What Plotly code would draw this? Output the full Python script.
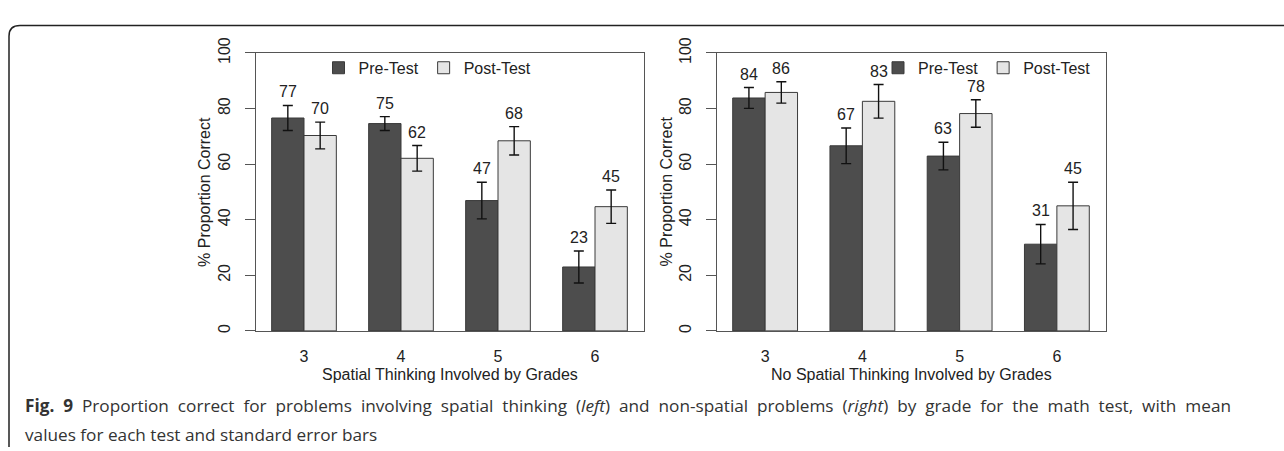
import plotly.graph_objects as go

W, H = 1284, 451

grades = ["3", "4", "5", "6"]
series_names = ["Pre-Test", "Post-Test"]

# Left panel: spatial thinking involved
spatial_pre = [76.6, 74.6, 46.9, 23.0]
spatial_pre_se = [4.5, 2.5, 6.6, 5.75]
spatial_post = [70.3, 62.1, 68.4, 44.7]
spatial_post_se = [4.8, 4.6, 5.1, 6.0]

# Right panel: no spatial thinking involved
nonspatial_pre = [83.8, 66.6, 62.9, 31.2]
nonspatial_pre_se = [3.75, 6.4, 4.95, 7.1]
nonspatial_post = [85.8, 82.6, 78.2, 45.0]
nonspatial_post_se = [3.85, 6.05, 4.95, 8.5]

y_ticks = [0, 20, 40, 60, 80, 100]
x_titles = ["Spatial Thinking Involved by Grades", "No Spatial Thinking Involved by Grades"]
y_title = "% Proportion Correct"
caption_words1 = ["<b>Fig.", "9</b>", "Proportion", "correct", "for", "problems", "involving", "spatial",
                  "thinking", "(<i>left</i>)", "and", "non-spatial", "problems", "(<i>right</i>)", "by",
                  "grade", "for", "the", "math", "test,", "with", "mean"]
caption_line2 = "values for each test and standard error bars"

PRE_COLOR = "#4d4d4d"
POST_COLOR = "#e5e5e5"
EDGE = "#3a3a3a"
TXT = "#222222"
FONT = "Liberation Sans, Arial, sans-serif"
FS = 16


def px(x):
    return x / W


def py(y):
    return 1 - y / H


fig = go.Figure()
annotations = []

panels = [
    (spatial_pre, spatial_pre_se, spatial_post, spatial_post_se, "x", "y", "legend"),
    (nonspatial_pre, nonspatial_pre_se, nonspatial_post, nonspatial_post_se, "x2", "y2", "legend2"),
]
xpos = list(range(len(grades)))

for pre, pre_se, post, post_se, xa, ya, lg in panels:
    for name, vals, errs, col, off in [
        (series_names[0], pre, pre_se, PRE_COLOR, -1 / 6),
        (series_names[1], post, post_se, POST_COLOR, 1 / 6),
    ]:
        fig.add_trace(go.Bar(
            x=xpos, y=vals, name=name, xaxis=xa, yaxis=ya, legend=lg,
            marker=dict(color=col, line=dict(color=EDGE, width=1)),
            error_y=dict(type="data", array=errs, color="#111111", thickness=1.4, width=5),
            hoverinfo="skip",
        ))
        for i, v, e in zip(xpos, vals, errs):
            annotations.append(dict(
                text=f"{v:.0f}", x=i + off, y=v + e, xref=xa, yref=ya,
                xanchor="center", yanchor="bottom", yshift=3, showarrow=False,
                font=dict(size=FS, color=TXT, family=FONT)))

ydom = [py(328), py(38.5)]
x1dom = [px(255.5), px(643.5)]
x2dom = [px(716.5), px(1105.5)]

axis_common = dict(showline=True, mirror=True, linecolor="#555555", linewidth=1,
                   showgrid=False, zeroline=False)
xcommon = dict(axis_common, range=[-0.5, 3.5], tickvals=xpos, ticktext=grades, ticks="",
               tickfont=dict(size=FS, color=TXT, family=FONT), ticklabelstandoff=11, fixedrange=True)
ycommon = dict(axis_common, range=[0, 100], tickvals=y_ticks, ticks="outside", ticklen=10,
               tickcolor="#555555", tickangle=-90, tickfont=dict(size=FS, color=TXT, family=FONT),
               ticklabelstandoff=8, fixedrange=True)

fig.update_layout(
    width=W, height=H, margin=dict(l=0, r=0, t=0, b=0),
    paper_bgcolor="white", plot_bgcolor="white",
    barmode="group", bargap=1 / 3, bargroupgap=0,
    font=dict(family=FONT, color=TXT, size=FS),
    xaxis=dict(xcommon, domain=x1dom, anchor="y"),
    yaxis=dict(ycommon, domain=ydom, anchor="x"),
    xaxis2=dict(xcommon, domain=x2dom, anchor="y2"),
    yaxis2=dict(ycommon, domain=ydom, anchor="x2"),
    legend=dict(orientation="h", x=px(318.5), xanchor="left", y=py(54), yanchor="middle",
                bgcolor="rgba(0,0,0,0)", font=dict(size=FS, color=TXT, family=FONT),
                traceorder="normal"),
    legend2=dict(orientation="h", x=px(878), xanchor="left", y=py(54), yanchor="middle",
                 bgcolor="rgba(0,0,0,0)", font=dict(size=FS, color=TXT, family=FONT),
                 traceorder="normal"),
    showlegend=True,
)

for dom, title in [(x1dom, x_titles[0]), (x2dom, x_titles[1])]:
    annotations.append(dict(text=title, x=(dom[0] + dom[1]) / 2, y=py(373), xref="paper", yref="paper",
                            xanchor="center", yanchor="middle", showarrow=False,
                            font=dict(size=FS, color=TXT, family=FONT)))
for xc in [205, 666.5]:
    annotations.append(dict(text=y_title, x=px(xc), y=(ydom[0] + ydom[1]) / 2, xref="paper", yref="paper",
                            xanchor="center", yanchor="middle", textangle=-90, showarrow=False,
                            font=dict(size=FS, color=TXT, family=FONT)))

# caption: first line is justified in the source, so word gaps are widened
caption_line1 = "\u00a0\u00a0".join(caption_words1)
cap_font = dict(size=17.2, color="#333333", family="Open Sans, sans-serif")
annotations.append(dict(text=caption_line1, x=px(23), y=py(406), xref="paper", yref="paper",
                        xanchor="left", yanchor="middle", showarrow=False, align="left", font=cap_font))
annotations.append(dict(text=caption_line2, x=px(23), y=py(436), xref="paper", yref="paper",
                        xanchor="left", yanchor="middle", showarrow=False, align="left", font=cap_font))
fig.update_layout(annotations=annotations)

# outer frame: top and left borders with a rounded top-left corner
r = 11
path = (f"M {px(W)},{py(10)} L {px(9 + r)},{py(10)} "
        f"Q {px(9)},{py(10)} {px(9)},{py(10 + r)} L {px(9)},{py(449)}")
fig.add_shape(type="path", path=path, xref="paper", yref="paper",
              line=dict(color="#222222", width=1.5))

fig.write_html("out.html")
